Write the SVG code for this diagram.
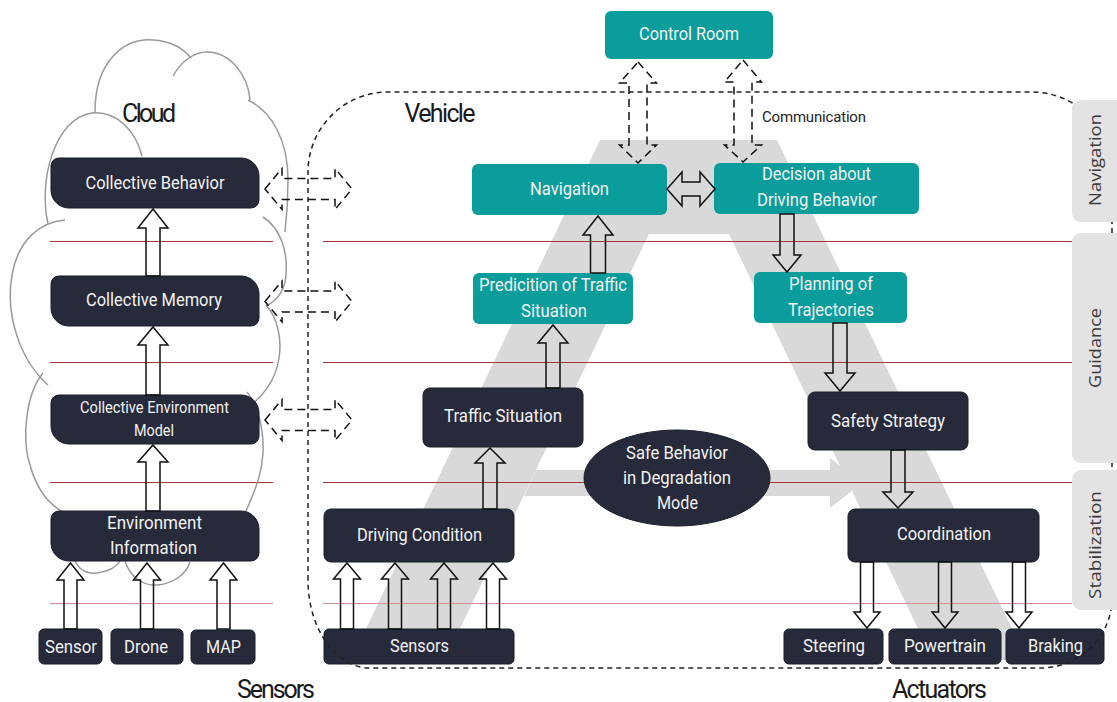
<svg xmlns="http://www.w3.org/2000/svg" width="1117" height="702" viewBox="0 0 1117 702">
  <defs>
    <style>
      .dark { fill: #272a3b; stroke: #1a1c28; stroke-width: 1; }
      .teal { fill: #0b9c9c; }
      .lbl { font-family: Roboto, "Liberation Sans", sans-serif; font-size: 18.5px; fill: #f2f2f2; text-anchor: middle; }
      .small { font-size: 16px; }
      .title { font-family: Roboto, "Liberation Sans", sans-serif; font-size: 25px; fill: #1a1a1a; text-anchor: middle; }
      .side { font-family: "Open Sans", "Noto Sans", sans-serif; font-size: 16.5px; fill: #3a3a3a; text-anchor: middle; }
      .note { font-family: Roboto, "Liberation Sans", sans-serif; font-size: 15px; fill: #222; text-anchor: middle; }
      .blk { fill: none; stroke: #111; stroke-width: 1.5; stroke-linejoin: miter; }
      .dsh { fill: none; stroke: #111; stroke-width: 1.5; stroke-dasharray: 8 5; }
      .grid { stroke: #a83838; stroke-width: 1; }
      .grid2 { stroke: #cf9090; stroke-width: 1.2; }
      .cloud { fill: none; stroke: #999; stroke-width: 1.5; }
      .bound { fill: none; stroke: #222; stroke-width: 1.5; stroke-dasharray: 5 4; }
      .band { fill: #e3e3e3; }
    </style>
  </defs>

  <rect width="1117" height="702" fill="#fff"/>

  <!-- the grey "A" of the vehicle architecture -->
  <g id="a-shape" fill="#d9d9d9">
    <path d="M600,140 H777 L1027,660 H933 L729,234 H649 L445,660 H351 Z"/>
    <path d="M536,470 H830 V458 L862,483 L830,508 V496 H524 Z"/>
  </g>

  <!-- layer separators -->
  <g id="layers">
    <line class="grid" x1="50" y1="241.5" x2="273" y2="241.5"/>
    <line class="grid" x1="323" y1="241.5" x2="1072" y2="241.5"/>
    <line class="grid" x1="50" y1="362.5" x2="273" y2="362.5"/>
    <line class="grid" x1="323" y1="362.5" x2="1072" y2="362.5"/>
    <line class="grid" x1="50" y1="482.5" x2="273" y2="482.5"/>
    <line class="grid" x1="323" y1="482.5" x2="1072" y2="482.5"/>
    <line class="grid2" x1="50" y1="603.5" x2="273" y2="603.5"/>
    <line class="grid2" x1="323" y1="603.5" x2="1072" y2="603.5"/>
  </g>

  <!-- cloud outline built from overlapping bumps -->
  <g id="cloud-outline" class="cloud">
    <path d="M95,112 C95,60 125,38 153,40 C170,41 183,48 191,58"/>
    <path d="M173,76 C182,60 195,52 207,52 C230,52 248,75 250,100"/>
    <path d="M248,100 C272,112 288,140 288,180 C288,200 287,215 285,232"/>
    <path d="M263,217 C280,228 288,250 286,275 C285,290 278,300 266,306"/>
    <path d="M266,305 C278,318 282,340 279,358 C276,380 262,398 248,407"/>
    <path d="M247,392 C258,405 264,430 263,453 C262,470 258,485 245,513"/>
    <path d="M75,561 C80,572 90,574 97,573 C106,572 116,568 120,561"/>
    <path d="M125,561 C130,578 145,586 157,585 C172,584 186,575 190,562"/>
    <path d="M48,224 C38,180 55,118 92,113 C118,111 136,132 142,156"/>
    <path d="M65,220 C40,222 18,240 12,275 C5,315 20,360 48,385"/>
    <path d="M43,373 C25,395 22,440 30,465 C37,490 50,505 63,512"/>
  </g>

  <text class="title" x="149" y="122" textLength="54">Cloud</text>
  <text class="title" x="440" y="122" textLength="71">Vehicle</text>
  <text class="title" x="276" y="698" textLength="78">Sensors</text>
  <text class="title" x="939.5" y="698" textLength="95">Actuators</text>
  <text class="note" x="814" y="122" textLength="104">Communication</text>

  <!-- cloud nodes -->
  <g id="collective-behavior">
    <path class="dark" d="M59,158 H241 A18,18 0 0 1 259,176 V200 A8,8 0 0 1 251,208 H69 A18,18 0 0 1 51,190 V166 A8,8 0 0 1 59,158 Z"/>
    <text class="lbl" x="155" y="188.5" textLength="139" lengthAdjust="spacingAndGlyphs">Collective Behavior</text>
  </g>
  <g id="collective-memory">
    <path class="dark" d="M59,276 H241 A18,18 0 0 1 259,294 V318 A8,8 0 0 1 251,326 H69 A18,18 0 0 1 51,308 V284 A8,8 0 0 1 59,276 Z"/>
    <text class="lbl" x="154" y="305.5" textLength="136" lengthAdjust="spacingAndGlyphs">Collective Memory</text>
  </g>
  <g id="collective-environment-model">
    <path class="dark" d="M59,395 H241 A18,18 0 0 1 259,413 V436 A8,8 0 0 1 251,444 H69 A18,18 0 0 1 51,426 V403 A8,8 0 0 1 59,395 Z"/>
    <text class="lbl small" x="154.5" y="412.5" textLength="149" lengthAdjust="spacingAndGlyphs">Collective Environment</text>
    <text class="lbl small" x="154" y="435.5" textLength="40" lengthAdjust="spacingAndGlyphs">Model</text>
  </g>
  <g id="environment-information">
    <path class="dark" d="M59,511 H241 A18,18 0 0 1 259,529 V553 A8,8 0 0 1 251,561 H69 A18,18 0 0 1 51,543 V519 A8,8 0 0 1 59,511 Z"/>
    <text class="lbl" x="154.5" y="528.5" textLength="95" lengthAdjust="spacingAndGlyphs">Environment</text>
    <text class="lbl" x="153.5" y="553.5" textLength="87" lengthAdjust="spacingAndGlyphs">Information</text>
  </g>
  <g id="sensor">
    <rect class="dark" x="39" y="629" width="63" height="35" rx="5"/>
    <text class="lbl" x="71" y="652.5" textLength="52" lengthAdjust="spacingAndGlyphs">Sensor</text>
  </g>
  <g id="drone">
    <rect class="dark" x="111" y="629" width="72" height="35" rx="5"/>
    <text class="lbl" x="146" y="652.5" textLength="44" lengthAdjust="spacingAndGlyphs">Drone</text>
  </g>
  <g id="map">
    <rect class="dark" x="191" y="630" width="64" height="34" rx="5"/>
    <text class="lbl" x="223.5" y="652.5" textLength="35" lengthAdjust="spacingAndGlyphs">MAP</text>
  </g>

  <!-- vehicle nodes -->
  <g id="control-room">
    <rect class="teal" x="605" y="11" width="168" height="48" rx="6"/>
    <text class="lbl" x="689" y="39.5" textLength="100" lengthAdjust="spacingAndGlyphs">Control Room</text>
  </g>
  <g id="navigation">
    <rect class="teal" x="472" y="164" width="195" height="51" rx="6"/>
    <text class="lbl" x="569.5" y="194.5" textLength="79" lengthAdjust="spacingAndGlyphs">Navigation</text>
  </g>
  <g id="decision">
    <rect class="teal" x="714" y="163" width="205" height="51" rx="6"/>
    <text class="lbl" x="816.5" y="179.5" textLength="109" lengthAdjust="spacingAndGlyphs">Decision about</text>
    <text class="lbl" x="817" y="205.5" textLength="120" lengthAdjust="spacingAndGlyphs">Driving Behavior</text>
  </g>
  <g id="prediction">
    <rect class="teal" x="473" y="273" width="160" height="51" rx="6"/>
    <text class="lbl" x="553" y="290.5" textLength="148" lengthAdjust="spacingAndGlyphs">Predicition of Traffic</text>
    <text class="lbl" x="554" y="316.5" textLength="66" lengthAdjust="spacingAndGlyphs">Situation</text>
  </g>
  <g id="planning">
    <rect class="teal" x="754" y="272" width="153" height="51" rx="6"/>
    <text class="lbl" x="831" y="289.5" textLength="84" lengthAdjust="spacingAndGlyphs">Planning of</text>
    <text class="lbl" x="831" y="315.5" textLength="86" lengthAdjust="spacingAndGlyphs">Trajectories</text>
  </g>
  <g id="traffic-situation">
    <rect class="dark" x="423" y="388" width="160" height="59" rx="7"/>
    <text class="lbl" x="503" y="421.5" textLength="118" lengthAdjust="spacingAndGlyphs">Traffic Situation</text>
  </g>
  <g id="driving-condition">
    <rect class="dark" x="324" y="509" width="190" height="53" rx="7"/>
    <text class="lbl" x="419.5" y="540.5" textLength="125" lengthAdjust="spacingAndGlyphs">Driving Condition</text>
  </g>
  <g id="sensors">
    <rect class="dark" x="324" y="629" width="190" height="35" rx="5"/>
    <text class="lbl" x="419.5" y="651.5" textLength="59" lengthAdjust="spacingAndGlyphs">Sensors</text>
  </g>
  <g id="safe-behavior">
    <ellipse class="dark" cx="677" cy="478" rx="93" ry="48"/>
    <text class="lbl" x="677" y="458.5" textLength="102" lengthAdjust="spacingAndGlyphs">Safe Behavior</text>
    <text class="lbl" x="677" y="483.5" textLength="108" lengthAdjust="spacingAndGlyphs">in Degradation</text>
    <text class="lbl" x="677.5" y="508.5" textLength="41" lengthAdjust="spacingAndGlyphs">Mode</text>
  </g>
  <g id="safety-strategy">
    <rect class="dark" x="808" y="392" width="160" height="58" rx="7"/>
    <text class="lbl" x="888" y="426.5" textLength="114" lengthAdjust="spacingAndGlyphs">Safety Strategy</text>
  </g>
  <g id="coordination">
    <rect class="dark" x="848" y="509" width="191" height="53" rx="7"/>
    <text class="lbl" x="944" y="539.5" textLength="94" lengthAdjust="spacingAndGlyphs">Coordination</text>
  </g>
  <g id="steering">
    <rect class="dark" x="784" y="629" width="99" height="35" rx="5"/>
    <text class="lbl" x="834" y="651.5" textLength="62" lengthAdjust="spacingAndGlyphs">Steering</text>
  </g>
  <g id="powertrain">
    <rect class="dark" x="889" y="629" width="112" height="35" rx="5"/>
    <text class="lbl" x="945" y="651.5" textLength="82" lengthAdjust="spacingAndGlyphs">Powertrain</text>
  </g>
  <g id="braking">
    <rect class="dark" x="1006" y="629" width="98" height="35" rx="5"/>
    <text class="lbl" x="1055.5" y="651.5" textLength="55" lengthAdjust="spacingAndGlyphs">Braking</text>
  </g>

  <!-- connectors -->
  <g id="connectors">
    <path class="blk" d="M153,209 L168,228 H160 V276 H146 V228 H138 Z"/>
    <path class="blk" d="M153,327 L168,345 H160 V395 H146 V345 H138 Z"/>
    <path class="blk" d="M153,445 L168,462 H160 V511 H146 V462 H138 Z"/>
    <path class="blk" d="M70.5,563 L84,580 H77 V629 H64 V580 H57 Z"/>
    <path class="blk" d="M147,563 L160.5,580 H153.5 V629 H140.5 V580 H133.5 Z"/>
    <path class="blk" d="M223.5,563 L237,580 H230 V629 H217 V580 H210 Z"/>

    <path class="blk" d="M347,563 L360.5,579 H353.5 V629 H340.5 V579 H333.5 Z"/>
    <path class="blk" d="M395,563 L408.5,579 H401.5 V629 H388.5 V579 H381.5 Z"/>
    <path class="blk" d="M444,563 L457.5,579 H450.5 V629 H437.5 V579 H430.5 Z"/>
    <path class="blk" d="M493,563 L506.5,579 H499.5 V629 H486.5 V579 H479.5 Z"/>
    <path class="blk" d="M490,448 L505,463 H497 V509 H483 V463 H475 Z"/>
    <path class="blk" d="M553,325 L568,343 H560 V388 H546 V343 H538 Z"/>
    <path class="blk" d="M598,216 L613,235 H605.5 V273 H590.5 V235 H583 Z"/>

    <path class="blk" d="M780,214 H794 V255 H801 L787,272 L773,255 H780 Z"/>
    <path class="blk" d="M833,323 H847 V373 H855 L840,391 L825,373 H833 Z"/>
    <path class="blk" d="M891,450 H905 V492 H913 L898,508 L883,492 H891 Z"/>
    <path class="blk" d="M860.5,562 H873.5 V612 H880 L867,628 L854,612 H860.5 Z"/>
    <path class="blk" d="M938.5,562 H951.5 V612 H958 L945,628 L932,612 H938.5 Z"/>
    <path class="blk" d="M1012.5,562 H1025.5 V612 H1032 L1019,628 L1006,612 H1012.5 Z"/>

    <path class="blk" d="M667,189 L682,172 V182 H700 V172 L715,189 L700,206 V196 H682 V206 Z"/>

    <path class="dsh" d="M638,62 L656.5,83 H647 V145 H656.5 L638,163 L619.5,145 H629 V83 H619.5 Z"/>
    <path class="dsh" d="M743,60 L761.5,82 H752 V145 H761.5 L743,162 L724.5,145 H734 V82 H724.5 Z"/>

    <path class="dsh" d="M265,189 L282,168.5 V178.5 H335 V168.5 L352,189 L335,209.5 V199.5 H282 V209.5 Z"/>
    <path class="dsh" d="M265,301.5 L282,281 V291 H335 V281 L352,301.5 L335,322 V312 H282 V322 Z"/>
    <path class="dsh" d="M265,420 L282,399.5 V409.5 H335 V399.5 L352,420 L335,440.5 V430.5 H282 V440.5 Z"/>
  </g>

  <!-- vehicle boundary -->
  <path id="vehicle-boundary" class="bound" d="M308,580 V172 A80,80 0 0 1 388,92 H1032 A80,80 0 0 1 1112,172 V598 A72,70 0 0 1 1040,668 H370 A62,88 0 0 1 308,580 Z"/>

  <!-- control layers -->
  <g id="layer-navigation">
    <rect class="band" x="1072" y="100" width="60" height="122" rx="9"/>
    <text class="side" transform="translate(1101,160) rotate(-90)" textLength="92" lengthAdjust="spacingAndGlyphs">Navigation</text>
  </g>
  <g id="layer-guidance">
    <rect class="band" x="1072" y="233" width="60" height="230" rx="9"/>
    <text class="side" transform="translate(1101,348) rotate(-90)" textLength="80" lengthAdjust="spacingAndGlyphs">Guidance</text>
  </g>
  <g id="layer-stabilization">
    <rect class="band" x="1072" y="470" width="60" height="140" rx="9"/>
    <text class="side" transform="translate(1101,545) rotate(-90)" textLength="108" lengthAdjust="spacingAndGlyphs">Stabilization</text>
  </g>
</svg>
